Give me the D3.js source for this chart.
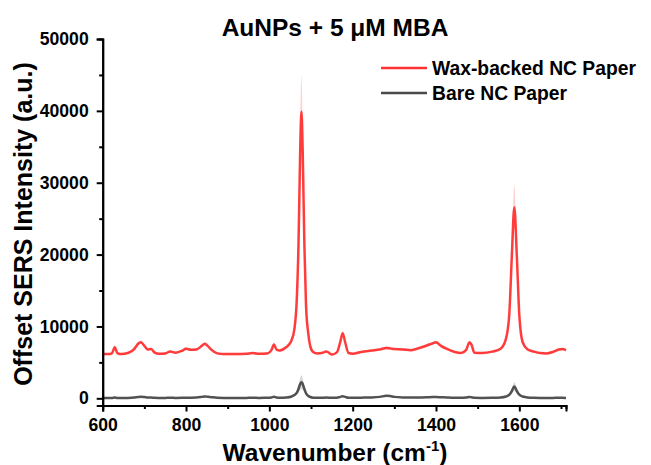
<!DOCTYPE html>
<html>
<head>
<meta charset="utf-8">
<script src="https://cdn.jsdelivr.net/npm/d3@7"></script>
<style>
  html, body { margin: 0; padding: 0; background: #fff; }
  svg { display: block; font-family: "Liberation Sans", Arial, sans-serif; }
</style>
</head>
<body>
<svg id="chart" width="651" height="465"></svg>
<script>
// ---- data ----
const chartTitle = "AuNPs + 5 \u03bcM MBA";
const seriesNames = ["Wax-backed NC Paper", "Bare NC Paper"];
const xTicks = [600, 800, 1000, 1200, 1400, 1600];
const yTicks = [0, 10000, 20000, 30000, 40000, 50000];

const wavenumber = [600, 615, 622, 629, 635, 645, 660, 675, 685, 692, 700, 708, 716, 724, 735, 750, 762, 775, 790, 800,
  812, 825, 838, 845, 852, 862, 875, 890, 920, 945, 960, 975, 995, 1005, 1011, 1017, 1025, 1040, 1052, 1060,
  1066, 1070, 1074, 1077, 1080, 1084, 1088, 1093, 1098, 1105, 1115, 1125, 1137, 1150, 1162, 1170, 1176, 1182, 1190, 1200,
  1220, 1245, 1265, 1281, 1290, 1300, 1320, 1340, 1360, 1378, 1392, 1400, 1412, 1425, 1445, 1460, 1472, 1480, 1485, 1492,
  1510, 1535, 1555, 1568, 1576, 1582, 1588, 1594, 1600, 1608, 1620, 1635, 1650, 1665, 1680, 1695, 1703, 1712];

const waxValues = [6150, 6150, 6250, 7100, 6300, 6150, 6300, 6800, 7600, 7800, 7300, 6800, 6850, 6400, 6200, 6250, 6500, 6350, 6600, 6900,
  6750, 6800, 7300, 7600, 7300, 6700, 6250, 6150, 6150, 6200, 6300, 6200, 6250, 6700, 7500, 6800, 6650, 7100, 7900, 9600,
  14000, 21500, 34500, 39900, 34500, 21500, 13000, 9200, 7300, 6450, 6250, 6300, 6500, 6100, 6400, 7800, 9050, 7800, 6300, 6200,
  6450, 6650, 6800, 7000, 6950, 6850, 6800, 6700, 7000, 7350, 7650, 7800, 7300, 6900, 6450, 6300, 6700, 7750, 7500, 6350,
  6300, 6500, 6900, 8300, 11800, 19800, 26600, 19800, 11500, 7800, 6800, 6500, 6300, 6250, 6450, 6800, 6850, 6700];

const waxSpread = [150, 150, 150, 250, 150, 150, 150, 200, 250, 250, 200, 150, 150, 150, 150, 150, 150, 150, 150, 200,
  150, 150, 200, 250, 200, 150, 150, 150, 150, 150, 150, 150, 150, 150, 250, 150, 150, 200, 300, 500,
  1000, 2000, 4000, 4900, 4000, 2000, 1000, 500, 250, 150, 150, 150, 150, 150, 150, 250, 400, 250, 150, 150,
  150, 150, 150, 200, 200, 150, 150, 150, 150, 200, 200, 200, 200, 150, 150, 150, 150, 300, 200, 150,
  150, 150, 150, 300, 700, 1700, 3000, 1700, 700, 300, 150, 150, 150, 150, 150, 150, 150, 150];

const bareValues = [50, 50, 60, 120, 60, 50, 60, 100, 180, 220, 180, 120, 110, 80, 60, 60, 70, 60, 70, 90,
  90, 110, 200, 260, 220, 150, 80, 60, 50, 60, 70, 60, 70, 120, 220, 120, 80, 120, 220, 450,
  800, 1300, 2000, 2250, 2000, 1300, 700, 350, 180, 90, 70, 70, 100, 70, 90, 200, 280, 200, 80, 70,
  90, 120, 200, 360, 320, 200, 120, 100, 120, 150, 180, 180, 150, 120, 80, 70, 100, 200, 150, 70,
  60, 80, 120, 250, 500, 1000, 1650, 1000, 500, 250, 120, 80, 60, 60, 60, 70, 70, 60];

const bareSpread = [80, 80, 80, 100, 80, 80, 80, 80, 100, 100, 100, 80, 80, 80, 80, 80, 80, 80, 80, 80,
  80, 80, 100, 120, 100, 80, 80, 80, 80, 80, 80, 80, 80, 80, 100, 80, 80, 80, 100, 150,
  300, 500, 800, 950, 800, 500, 300, 150, 100, 80, 80, 80, 80, 80, 80, 100, 120, 100, 80, 80,
  80, 80, 100, 120, 120, 100, 80, 80, 80, 80, 80, 80, 80, 80, 80, 80, 80, 100, 80, 80,
  80, 80, 80, 100, 200, 400, 600, 400, 200, 100, 80, 80, 80, 80, 80, 80, 80, 80];

// ---- chart ----
const svg = d3.select("#chart");
const colors = ["#ff3333", "#4a4a4a"];

const x = d3.scaleLinear().domain([600, 1712]).range([102.7, 566]);
const y = d3.scaleLinear().domain([-1000, 50000]).range([405.5, 39]);

const series = [
  { name: seriesNames[0], values: waxValues, spread: waxSpread, color: colors[0] },
  { name: seriesNames[1], values: bareValues, spread: bareSpread, color: colors[1] }
];

const plot = svg.append("g");

series.slice().reverse().forEach(s => {
  const pts = wavenumber.map((w, i) => ({ w, v: s.values[i], sd: s.spread[i] }));
  const area = d3.area().curve(d3.curveMonotoneX)
    .x(d => x(d.w)).y0(d => y(d.v - d.sd)).y1(d => y(d.v + d.sd));
  plot.append("path").attr("d", area(pts))
    .attr("fill", s.color).attr("fill-opacity", 0.22).attr("stroke", "none");
  const line = d3.line().curve(d3.curveMonotoneX).x(d => x(d.w)).y(d => y(d.v));
  plot.append("path").attr("d", line(pts))
    .attr("fill", "none").attr("stroke", s.color).attr("stroke-width", 2.5)
    .attr("stroke-linejoin", "round").attr("stroke-opacity", 0.95);
});

// axes
const axisFont = 17.6;
const xAxis = d3.axisBottom(x).tickValues(xTicks).tickFormat(d3.format("d")).tickSize(6).tickPadding(7);
const xMinor = d3.axisBottom(x).tickValues([700, 900, 1100, 1300, 1500, 1700]).tickFormat("").tickSize(3.5);
const yAxis = d3.axisLeft(y).tickValues(yTicks).tickFormat(d3.format("d")).tickSize(6).tickPadding(8);
const yMinor = d3.axisLeft(y).tickValues([5000, 15000, 25000, 35000, 45000]).tickFormat("").tickSize(3.5);

function styleAxis(g) {
  g.select(".domain").attr("stroke", "#000").attr("stroke-width", 2);
  g.selectAll(".tick line").attr("stroke", "#000").attr("stroke-width", 2);
  g.selectAll(".tick text").attr("font-size", axisFont).attr("font-weight", "bold").attr("fill", "#000")
    .attr("font-family", "'Liberation Sans', Arial, sans-serif");
}

svg.append("g").attr("transform", "translate(0,405.5)").call(xMinor).call(styleAxis);
svg.append("g").attr("transform", "translate(0,405.5)").call(xAxis).call(styleAxis);
svg.append("g").attr("transform", "translate(102.7,0)").call(yMinor).call(styleAxis);
svg.append("g").attr("transform", "translate(102.7,0)").call(yAxis).call(styleAxis);

// title
svg.append("text").attr("x", 335).attr("y", 36).attr("text-anchor", "middle")
  .attr("font-size", 24.5).attr("font-weight", "bold").text(chartTitle);

// y axis title
svg.append("text").attr("transform", "translate(32,224) rotate(-90)").attr("text-anchor", "middle")
  .attr("font-size", 25).attr("font-weight", "bold").text("Offset SERS Intensity (a.u.)");

// x axis title with superscript
const xt = svg.append("text").attr("x", 335).attr("y", 461).attr("text-anchor", "middle")
  .attr("font-size", 24.5).attr("font-weight", "bold");
xt.append("tspan").text("Wavenumber (cm");
xt.append("tspan").attr("font-size", 15).attr("dy", -10).text("-1");
xt.append("tspan").attr("dy", 10).text(")");

// legend
const legend = svg.append("g");
series.forEach((s, i) => {
  const ly = 68 + i * 25;
  legend.append("line").attr("x1", 381).attr("x2", 427).attr("y1", ly).attr("y2", ly)
    .attr("stroke", s.color).attr("stroke-width", 2.5);
  legend.append("text").attr("x", 432).attr("y", ly + 7).attr("font-size", 19.3)
    .attr("font-weight", "bold").text(s.name);
});
</script>
</body>
</html>
